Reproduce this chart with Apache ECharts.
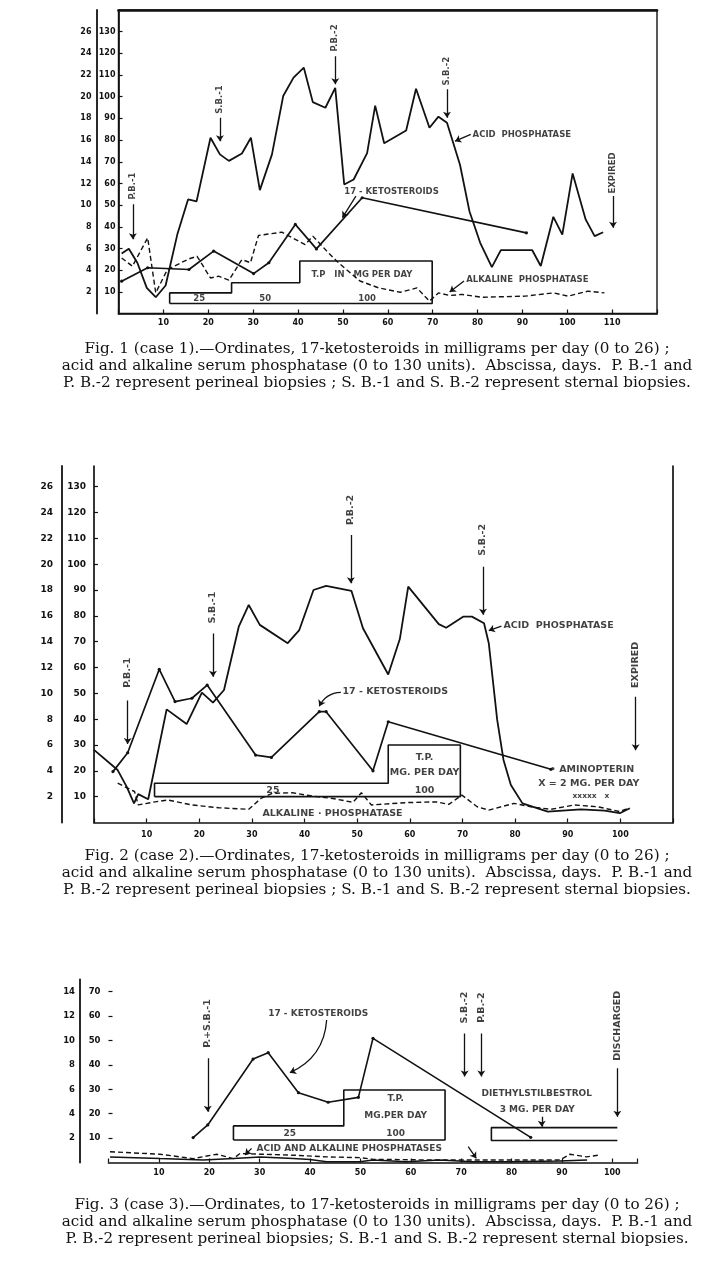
<!DOCTYPE html>
<html>
<head>
<meta charset="utf-8">
<title>17-ketosteroids and serum phosphatase, cases 1-3</title>
<script src="https://cdn.jsdelivr.net/npm/echarts/dist/echarts.min.js"></script>
<style>
html, body { margin: 0; padding: 0; background: #fff; }
#chart { width: 720px; height: 1280px; }
</style>
</head>
<body>
<div id="chart"></div>
<script>
// values: [day, units]. ketosteroid mg = units / 5
var fig1Acid = [[0.7,27.7],[2.3,29.9],[4.2,23.4],[6.3,11.8],[8.3,7.5],[10.5,12.9],[13.1,36.4],[15.5,52.6],[17.4,51.7],
    [20.5,81.1],[22.6,73.4],[24.6,70.4],[27.5,73.8],[29.5,81.1],[31.5,56.9],[34.2,73.4],[36.7,100.3],[39,108.8],
    [41.3,113.4],[43.3,97.5],[46.1,94.9],[48.3,104.1],[50.3,59.5],[52.4,61.8],[55.4,74],[57.2,95.9],[59.2,78.5],
    [64.1,84.4],[66.3,103.7],[69.3,85.7],[71.3,90.8],[73.2,88],[76.1,68.6],[78.2,47.2],[80.6,32.6],[83.2,21.4],
    [85.2,29.2],[92.2,29.2],[94.1,21.9],[96.9,44.6],[98.9,36.4],[101.2,64.6],[104.1,43.4],[106.1,35.7],[108,37.5]];
var fig1Keto = [[0.7,14.9],[6.5,21.1],[15.7,20.3],[21.2,28.8],[30.1,18.4],[33.5,23.4],[39.4,41.1],[44.1,29.8],[54.3,53.4],[90.9,37.2]];
var fig1Alk = [[0.7,25.6],[3.1,21.8],[6.5,34.9],[8.3,9.5],[10.9,20.3],[15.7,25.2],[17.5,26.4],[20.5,16.4],[22.3,17.2],
    [24.6,15.4],[27.5,24.9],[29.4,23.4],[31.2,36],[36.4,37.5],[41.6,31.8],[43.3,35.7],[46.4,28.8],[49,23.4],[53.8,15],
    [58,11.8],[62.8,9.8],[66.5,11.8],[69.3,5.7],[71.3,9.5],[73.9,8.3],[76.5,8.8],[80.9,7.5],[90.6,8],[96.9,9.5],
    [100.2,8],[104.6,10.3],[108.3,9.5]];
var fig1Dose = [[11.4,4.6],[11.4,9.5],[25.2,9.5],[25.2,14.2],[40.4,14.2],[40.4,24.2],[69.9,24.2],[69.9,4.6],[11.4,4.6]];

var fig2Acid = [[0,28.1],[4.5,20.3],[6.2,13.9],[7.6,7.4],[8.4,11],[10.3,9],[13.8,43.8],[17.6,38.1],[20.5,50.3],
    [22.6,46.4],[24.7,51.3],[27.5,75.8],[29.4,84.2],[31.5,76.5],[36.8,69.4],[39,74.5],[41.7,90],[44.1,91.6],
    [48.9,89.7],[51.1,75.2],[55.9,57.3],[58.1,71],[59.7,91.3],[65.5,76.8],[66.9,75.4],[70.2,79.7],[71.8,79.7],
    [74.1,77.1],[75,69.4],[76.6,39.7],[77.8,24.2],[79.2,14.5],[81.4,7.4],[86.2,4.2],[92.5,5.1],[97,4.6],[99.9,3.6],[101.8,5.5]];
var fig2Keto = [[3.6,19.7],[6.4,27],[12.4,59.3],[15.4,46.8],[18.6,48.1],[21.5,53.2],[30.7,26.1],[33.7,25.2],
    [42.8,42.9],[44.1,42.9],[53,20],[55.9,39],[86.8,20.6]];
var fig2Alk = [[4.5,15.2],[7.7,12],[8.4,6.8],[11.6,8],[14.1,8.7],[18.6,6.8],[23.7,5.7],[29.4,5.1],[31.7,9.3],
    [33.9,11.3],[37.7,11.5],[41.5,10.2],[45.4,9.3],[49.2,7.8],[50.8,11.5],[52.7,6.8],[59.4,7.7],[65.1,8],[67.4,7],
    [69.9,10.6],[72.8,6.1],[75,4.8],[79.8,7.4],[83,6.1],[86.8,5.1],[91.3,6.8],[95.7,6.1],[99.9,4.2],[101.5,5.5]];
var fig2Dose = [[11.5,10],[11.5,15.2],[55.9,15.2],[55.9,30],[69.6,30],[69.6,10],[11.5,10]];

var fig3Keto = [[16.8,10.2],[19.7,15.4],[28.7,42.4],[31.7,45],[37.7,28.6],[43.6,24.7],[49.6,26.7],[52.5,50.9],[83.8,10.3]];
var fig3Alk = [[0.3,4.4],[10.2,3.4],[16.8,1.6],[21.5,3.4],[24.8,1.6],[26.1,3.7],[30.1,3.4],[36.7,3],[43.3,2.3],
    [49.9,2],[52.5,1.3],[65.7,1],[79,1],[89.6,1],[91.6,3.4],[94.9,2.3],[97.2,3]];
var fig3Acid = [[0.3,2.3],[10.2,1.6],[18.8,1],[24.8,1.6],[30.1,2.3],[36.7,1.6],[40,1.2],[43.3,0.3],[49.9,0.3],
    [52.5,1],[59.1,0.3],[65.7,1],[72.3,0.3],[79,0.3],[89.6,0.6],[95,1]];
var fig3Dose = [[24.8,9.2],[24.8,15],[46.7,15],[46.7,29.7],[66.8,29.7],[66.8,9.2],[24.8,9.2]];
var fig3Stilb = [[101,14.3],[76,14.3],[76,9],[101,9]];

// vertical event marks: label, day, text centre, arrow tail, arrow tip
var fig1Events = [['P.B.-1',3.2,58.8,50.4,34.2],['S.B.-1',22.6,98.7,90.3,79.5],['P.B.-2',48.3,127.1,118.7,105.7],
    ['S.B.-2',73.2,111.8,103.4,90.3],['EXPIRED',110.2,64.8,54.2,39.6]];
var fig2Events = [['P.B.-1',6.4,58,47.2,30.4],['S.B.-1',22.6,83.2,73.2,56.4],['P.B.-2',48.8,121,111.3,92.6],
    ['S.B.-2',73.9,109.4,99,80.4],['EXPIRED',102.9,61,48.7,28]];
var fig3Events = [['P.+S.B.-1',19.7,57,42.7,20.8],['S.B.-2',70.7,63.5,52.9,35.2],['P.B.-2',74,63.5,52.9,35.2],
    ['DISCHARGED',101,56,38.6,18.8]];

// text labels: text, day, units, align
var fig1Notes = [['ACID  PHOSPHATASE',78.9,82.6,'left'],['17 - KETOSTEROIDS',50.3,56.1,'left'],
    ['ALKALINE  PHOSPHATASE',77.5,15.4,'left'],['T.P   IN   MG PER DAY',43,18,'left'],
    ['25',18,6.9,'center'],['50',32.7,6.9,'center'],['100',55.4,6.9,'center']];
var fig1Pointers = [[78.5,82.6,75,79.5],[52.9,54.1,49.9,44.2],[77,15,73.8,9.9]];

var fig2Notes = [['ACID  PHOSPHATASE',77.8,76.2,'left'],['17 - KETOSTEROIDS',47.2,50.6,'left'],
    ['ALKALINE · PHOSPHATASE',32,3.6,'left'],['• AMINOPTERIN',86.6,20.6,'left'],['X = 2 MG. PER DAY',94,15.2,'center'],
    ['T.P.',62.8,25,'center'],['MG. PER DAY',62.8,19.2,'center'],['100',62.8,12.3,'center'],['25',34,12.4,'center']];
var fig2Pointers = [[77.4,76,75,74.3]];
var fig2Curved = [[46.9,50.4,42.8,45]];
var fig2Marks = [['xxxxx   x',94.4,10.2,'center']];

var fig3Notes = [['17 - KETOSTEROIDS',31.7,61.1,'left'],['ACID AND ALKALINE PHOSPHATASES',29.4,5.8,'left'],
    ['DIETHYLSTILBESTROL',85,28.4,'center'],['3 MG. PER DAY',85.1,21.8,'center'],
    ['T.P.',57,26.3,'center'],['MG.PER DAY',57,19.1,'center'],['100',57,12,'center'],['25',36,11.7,'center']];
var fig3Pointers = [[28.4,5.8,27.1,3.1],[71.4,6.5,73,1.7],[86,18.8,86,14.7]];
var fig3Curved = [[43.3,58.4,36,36.8]];

var captions = [
    ['Fig. 1 (case 1).—Ordinates, 17-ketosteroids in milligrams per day (0 to 26) ;',
     'acid and alkaline serum phosphatase (0 to 130 units).  Abscissa, days.  P. B.-1 and',
     'P. B.-2 represent perineal biopsies ; S. B.-1 and S. B.-2 represent sternal biopsies.'],
    ['Fig. 2 (case 2).—Ordinates, 17-ketosteroids in milligrams per day (0 to 26) ;',
     'acid and alkaline serum phosphatase (0 to 130 units).  Abscissa, days.  P. B.-1 and',
     'P. B.-2 represent perineal biopsies ; S. B.-1 and S. B.-2 represent sternal biopsies.'],
    ['Fig. 3 (case 3).—Ordinates, to 17-ketosteroids in milligrams per day (0 to 26) ;',
     'acid and alkaline serum phosphatase (0 to 130 units).  Abscissa, days.  P. B.-1 and',
     'P. B.-2 represent perineal biopsies; S. B.-1 and S. B.-2 represent sternal biopsies.']];
var captionTops = [351, 858, 1207];
var unitTicks1 = [10,20,30,40,50,60,70,80,90,100,110,120,130];
var unitTicks3 = [10,20,30,40,50,60,70];

var ink = '#121212';
var sans = 'DejaVu Sans';

function dayAxis(grid, max, margin) {
    return {
        type: 'value', gridIndex: grid, min: 0, max: max, interval: 10,
        axisLine: { show: true, onZero: false, lineStyle: { color: ink, width: 1.7 } },
        axisTick: { show: true, inside: true, length: 4, lineStyle: { color: ink, width: 1.2 } },
        axisLabel: { margin: margin, color: ink, fontFamily: sans, fontWeight: 'bold', fontSize: 8,
            formatter: function (v) { return (v > 0 && v < max) ? String(v) : ''; } },
        splitLine: { show: false }
    };
}

function unitAxis(grid, max, ticks, margin, size, line) {
    var top = ticks[ticks.length - 1];
    return {
        type: 'value', gridIndex: grid, min: 0, max: max, interval: 10, position: 'left',
        axisLine: { show: line, onZero: false, lineStyle: { color: ink, width: 1.7 } },
        axisTick: { show: true, inside: true, length: 4, customValues: ticks, lineStyle: { color: ink, width: 1.2 } },
        axisLabel: { margin: margin, color: ink, fontFamily: sans, fontWeight: 'bold', fontSize: size,
            formatter: function (v) { return (v > 0 && v <= top && v % 10 === 0) ? String(v) : ''; } },
        splitLine: { show: false }
    };
}

function mgAxis(grid, max, ticks, offset, margin, size) {
    var top = ticks[ticks.length - 1];
    return {
        type: 'value', gridIndex: grid, min: 0, max: max, interval: 10, position: 'left', offset: offset,
        axisLine: { show: true, onZero: false, lineStyle: { color: ink, width: 1.8 } },
        axisTick: { show: false },
        axisLabel: { margin: margin, color: ink, fontFamily: sans, fontWeight: 'bold', fontSize: size,
            formatter: function (v) { return (v > 0 && v <= top && v % 10 === 0) ? String(v / 5) : ''; } },
        splitLine: { show: false }
    };
}

function trace(xi, yi, data, dots, dash, width) {
    return {
        type: 'line', xAxisIndex: xi, yAxisIndex: yi, data: data, silent: true,
        symbol: dots ? 'circle' : 'none', symbolSize: 3.2, showSymbol: dots,
        itemStyle: { color: ink },
        lineStyle: { color: ink, width: width, type: dash ? [5, 3] : 'solid' },
        z: 3
    };
}

function arrows(xi, yi, list, curve) {
    var data = [];
    for (var i = 0; i < list.length; i++) {
        var a = list[i];
        data.push({ coords: [[a[0], a[1]], [a[2], a[3]]] });
    }
    return {
        type: 'lines', coordinateSystem: 'cartesian2d', xAxisIndex: xi, yAxisIndex: yi, silent: true,
        symbol: ['none', 'arrow'], symbolSize: 6,
        lineStyle: { color: ink, width: 1.3, opacity: 1, curveness: curve },
        data: data, z: 4
    };
}

function notes(xi, yi, list, size, rotate) {
    var data = [];
    for (var i = 0; i < list.length; i++) {
        var n = list[i];
        data.push({ value: [n[1], n[2]], label: { formatter: n[0], align: rotate ? 'center' : n[3] } });
    }
    return {
        type: 'scatter', xAxisIndex: xi, yAxisIndex: yi, silent: true, symbolSize: 1,
        itemStyle: { color: 'rgba(0,0,0,0)' },
        label: { show: true, position: 'inside', rotate: rotate ? 90 : 0, verticalAlign: 'middle',
            color: ink, fontFamily: sans, fontWeight: 'bold', fontSize: size },
        data: data, z: 5
    };
}

function events(xi, yi, list, size) {
    var texts = [], tails = [];
    for (var i = 0; i < list.length; i++) {
        var e = list[i];
        texts.push([e[0], e[1], e[2], 'center']);
        tails.push([e[1], e[3], e[1], e[4]]);
    }
    return [notes(xi, yi, texts, size, true), arrows(xi, yi, tails, 0)];
}

var series = [];
series.push(trace(0, 0, fig1Acid, false, false, 1.8));
series.push(trace(0, 0, fig1Keto, true, false, 1.7));
series.push(trace(0, 0, fig1Alk, false, true, 1.4));
series.push(trace(0, 0, fig1Dose, false, false, 1.6));
series.push(notes(0, 0, fig1Notes, 8.5, false));
series.push(arrows(0, 0, fig1Pointers, 0));
series = series.concat(events(0, 0, fig1Events, 8.5));

series.push(trace(1, 2, fig2Acid, false, false, 1.8));
series.push(trace(1, 2, fig2Keto, true, false, 1.7));
series.push(trace(1, 2, fig2Alk, false, true, 1.4));
series.push(trace(1, 2, fig2Dose, false, false, 1.6));
series.push(notes(1, 2, fig2Notes, 9.5, false));
series.push(notes(1, 2, fig2Marks, 7.5, false));
series.push(arrows(1, 2, fig2Pointers, 0));
series.push(arrows(1, 2, fig2Curved, -0.3));
series = series.concat(events(1, 2, fig2Events, 9.5));

series.push(trace(2, 5, fig3Acid, false, false, 1.5));
series.push(trace(2, 5, fig3Alk, false, true, 1.4));
series.push(trace(2, 5, fig3Keto, true, false, 1.6));
series.push(trace(2, 5, fig3Dose, false, false, 1.6));
series.push(trace(2, 5, fig3Stilb, false, false, 1.6));
series.push(notes(2, 5, fig3Notes, 9, false));
series.push(arrows(2, 5, fig3Pointers, 0));
series.push(arrows(2, 5, fig3Curved, 0.3));
series = series.concat(events(2, 5, fig3Events, 9.5));

// captions centred under the plates (page centre of the scan is a little right of 360)
var graphic = [];
for (var c = 0; c < captions.length; c++) {
    for (var l = 0; l < captions[c].length; l++) {
        graphic.push({
            type: 'text', x: 377, y: captionTops[c] - 9 + l * 17, silent: true,
            style: { text: captions[c][l], fill: ink, font: '15.2px "DejaVu Serif"', align: 'center', verticalAlign: 'top' }
        });
    }
}

var option = {
    animation: false,
    backgroundColor: '#ffffff',
    grid: [
        { left: 118.5, right: 63, top: 10, bottom: 966.5, show: true, borderColor: ink, borderWidth: 1.4,
          backgroundColor: 'transparent', outerBoundsMode: 'none' },
        { left: 94, right: 47, top: 466, bottom: 457.5, outerBoundsMode: 'none' },
        { left: 108.5, right: 82.5, top: 979.5, bottom: 117.5, outerBoundsMode: 'none' }
    ],
    xAxis: [
        dayAxis(0, 120, 5),
        dayAxis(1, 110, 8),
        dayAxis(2, 105, 6),
        { type: 'value', gridIndex: 0, min: 0, max: 120, position: 'top',
          axisLine: { show: true, onZero: false, lineStyle: { color: ink, width: 2.6 } },
          axisTick: { show: false }, axisLabel: { show: false }, splitLine: { show: false } }
    ],
    yAxis: [
        unitAxis(0, 140, unitTicks1, 3, 8, true),
        mgAxis(0, 140, unitTicks1, 22, 5, 8),
        unitAxis(1, 138, unitTicks1, 8, 9, true),
        mgAxis(1, 138, unitTicks1, 32, 9, 9),
        { type: 'value', gridIndex: 1, min: 0, max: 138, position: 'right',
          axisLine: { show: true, onZero: false, lineStyle: { color: ink, width: 1.7 } },
          axisTick: { show: false }, axisLabel: { show: false }, splitLine: { show: false } },
        unitAxis(2, 75, unitTicks3, 8, 8.5, false),
        mgAxis(2, 75, unitTicks3, 28.5, 5, 8.5)
    ],
    series: series,
    graphic: graphic
};

var myChart = echarts.init(document.getElementById('chart'));
myChart.setOption(option);
</script>
</body>
</html>
